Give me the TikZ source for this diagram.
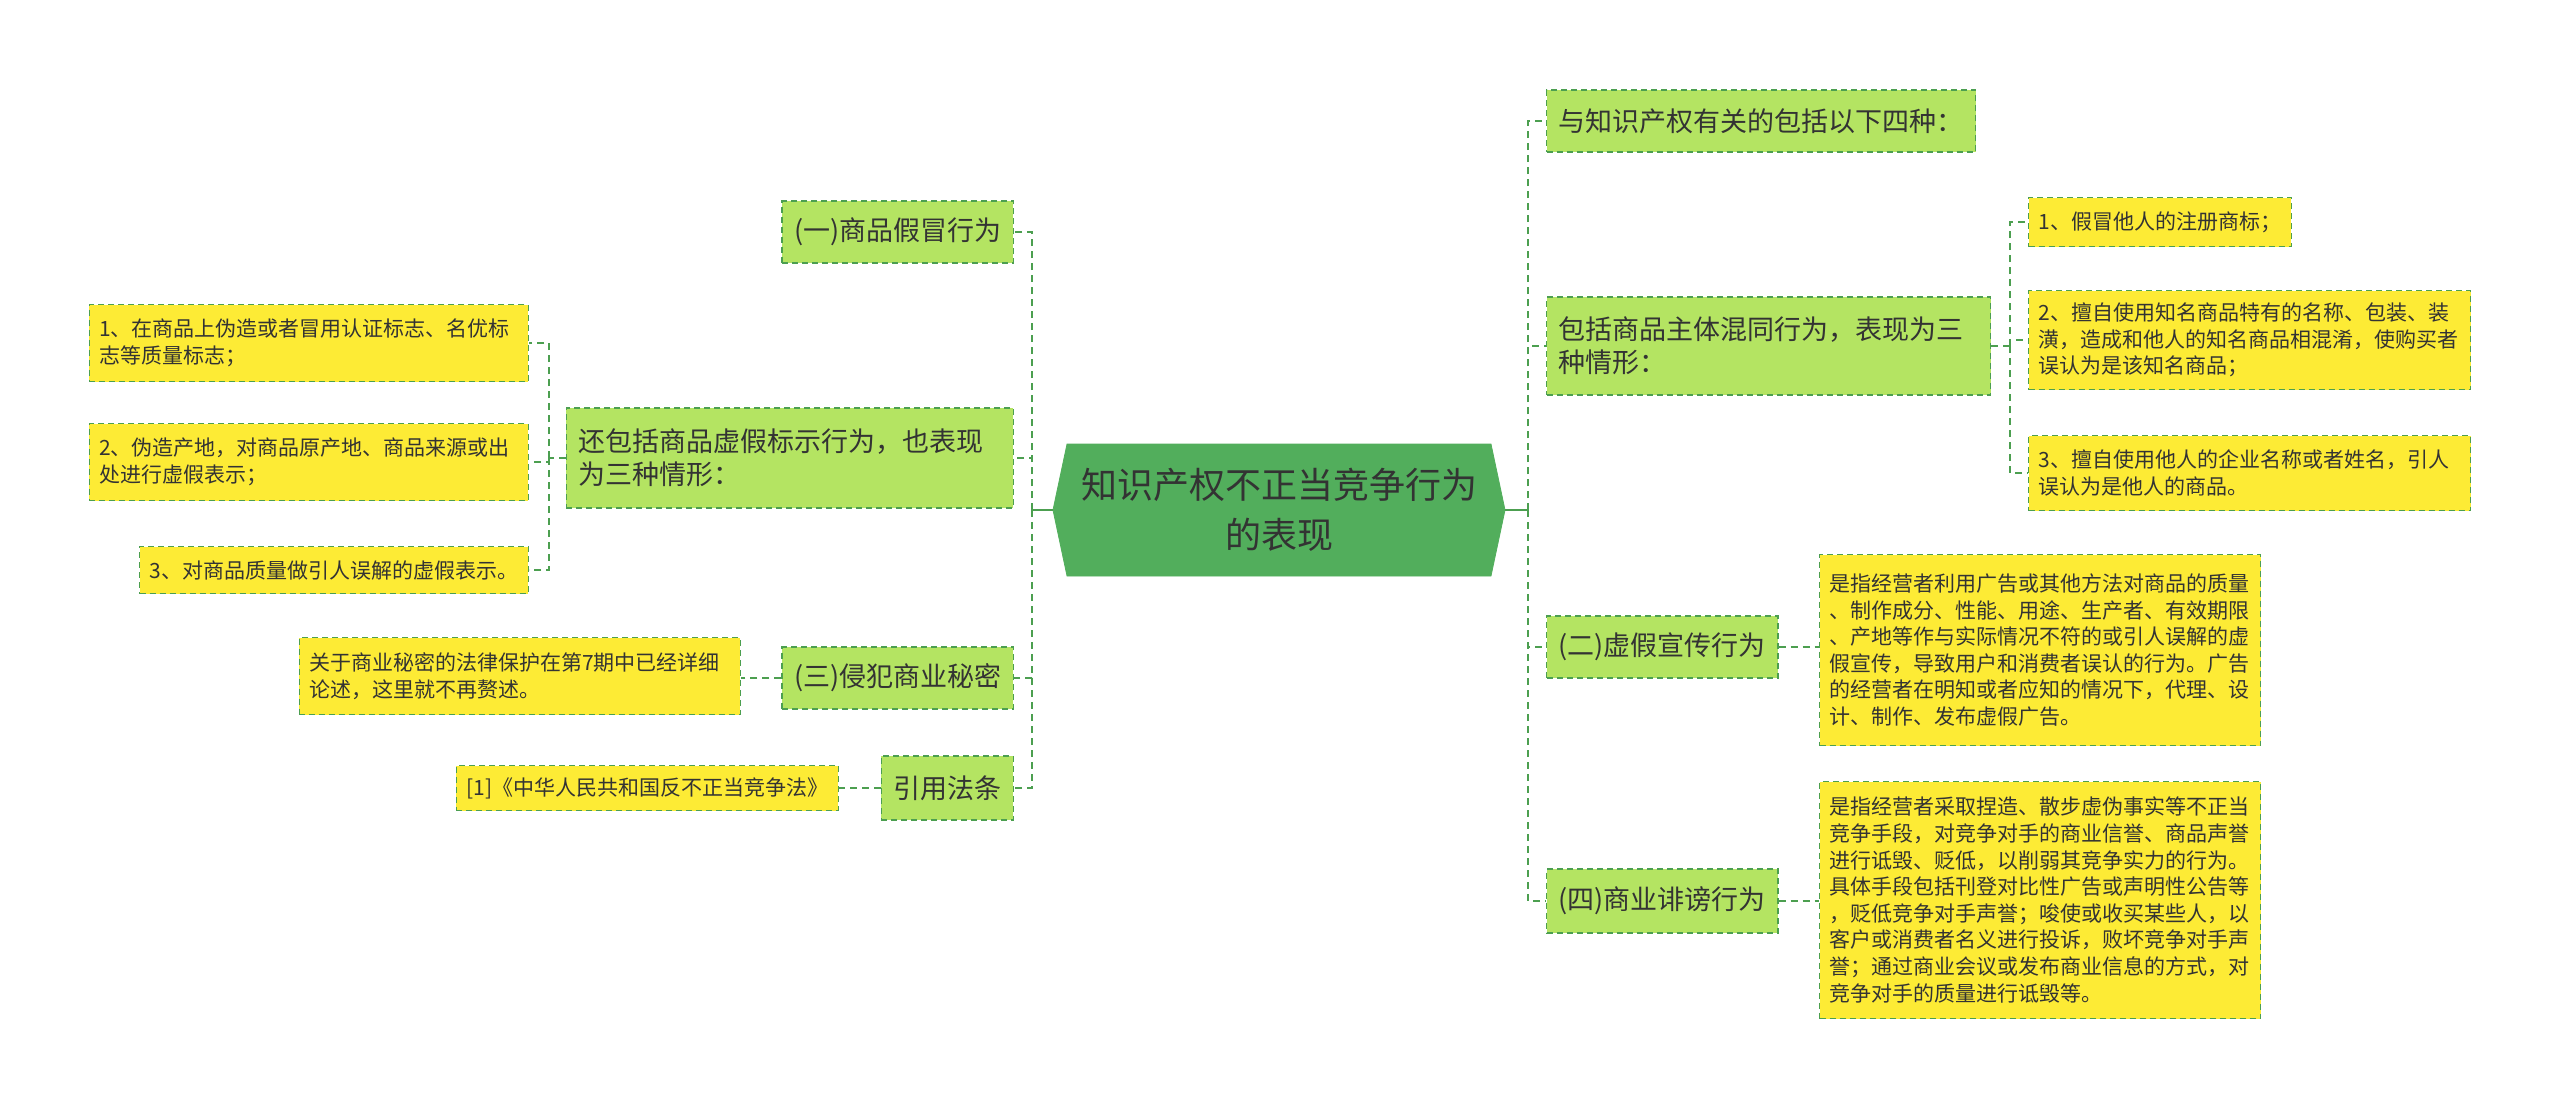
\documentclass[tikz,border=0pt]{standalone}
\usepackage{fontspec}
\newfontfamily\cjk{Noto Sans CJK SC}
\usetikzlibrary{shapes.symbols}
\definecolor{rootgreen}{HTML}{52AE5C}
\definecolor{lightgreen}{HTML}{B4E462}
\definecolor{leafyellow}{HTML}{FDEB35}
\definecolor{linegreen}{HTML}{4C9F50}
\definecolor{textgray}{HTML}{333333}
\begin{document}
\begin{tikzpicture}[x=0.5pt, y=-0.5pt,
    root/.style={signal, signal to=west and east, signal pointer angle=156,
      fill=rootgreen, draw=rootgreen, minimum width=226pt, minimum height=66pt,
      inner sep=0pt, align=center, text=textgray,
      font=\cjk\fontsize{18}{25}\selectfont},
    branch/.style={draw=linegreen, line width=0.7pt, dash pattern=on 3pt off 2pt,
      fill=lightgreen, inner xsep=6pt, inner ysep=2pt, minimum height=31pt,
      align=left, text=textgray, font=\cjk\fontsize{13.5}{16.5}\selectfont},
    leaf/.style={draw=linegreen, line width=0.7pt, dash pattern=on 3pt off 2pt,
      fill=leafyellow, inner xsep=5pt, inner ysep=2pt, align=left, text=textgray,
      font=\cjk\fontsize{10.5}{13.3}\selectfont},
    link/.style={draw=linegreen, line width=1pt, dash pattern=on 3.5pt off 2.5pt}]
    \useasboundingbox (0,0) rectangle (2560,1109);

    \node[root] (root) at (1279,510) {知识产权不正当竞争行为\\的表现};
    \coordinate (lj) at (1032,510);
    \coordinate (rj) at (1528,510);

    % left side
    \node[branch, anchor=east] (fake) at (1014,232) {(一)商品假冒行为};
    \node[branch, anchor=east, text width=211.5pt, minimum height=50pt] (mark) at (1014,458)
      {还包括商品虚假标示行为，也表现\\为三种情形：};
    \node[leaf, anchor=east, text width=209.5pt, minimum height=38.5pt] (mark1) at (529,343)
      {1、在商品上伪造或者冒用认证标志、名优标\\志等质量标志；};
    \node[leaf, anchor=east, text width=209.5pt, minimum height=38.5pt] (mark2) at (529,462)
      {2、伪造产地，对商品原产地、商品来源或出\\处进行虚假表示；};
    \node[leaf, anchor=east, minimum height=23.5pt] (mark3) at (529,570)
      {3、对商品质量做引人误解的虚假表示。};
    \node[branch, anchor=east] (secret) at (1014,678) {(三)侵犯商业秘密};
    \node[leaf, anchor=east, text width=210.5pt, minimum height=38.5pt] (secretx) at (741,676)
      {关于商业秘密的法律保护在第7期中已经详细\\论述，这里就不再赘述。};
    \node[branch, anchor=east, minimum height=32pt] (law) at (1014,788) {引用法条};
    \node[leaf, anchor=east, minimum height=22.5pt] (lawx) at (839,788)
      {[1]《中华人民共和国反不正当竞争法》};

    % right side
    \node[branch, anchor=west] (four) at (1546,121) {与知识产权有关的包括以下四种：};
    \node[branch, anchor=west, text width=210pt, minimum height=49pt] (mix) at (1546,346)
      {包括商品主体混同行为，表现为三\\种情形：};
    \node[leaf, anchor=west, minimum height=24.5pt] (mix1) at (2028,222)
      {1、假冒他人的注册商标；};
    \node[leaf, anchor=west, text width=211pt, minimum height=49.5pt] (mix2) at (2028,340)
      {2、擅自使用知名商品特有的名称、包装、装\\潢，造成和他人的知名商品相混淆，使购买者\\误认为是该知名商品；};
    \node[leaf, anchor=west, text width=211pt, minimum height=37.5pt] (mix3) at (2028,473)
      {3、擅自使用他人的企业名称或者姓名，引人\\误认为是他人的商品。};
    \node[branch, anchor=west] (ads) at (1546,647) {(二)虚假宣传行为};
    \node[leaf, anchor=west, text width=210.5pt, minimum height=95.5pt] (adsx) at (1819,650)
      {是指经营者利用广告或其他方法对商品的质量\\、制作成分、性能、用途、生产者、有效期限\\、产地等作与实际情况不符的或引人误解的虚\\假宣传，导致用户和消费者误认的行为。广告\\的经营者在明知或者应知的情况下，代理、设\\计、制作、发布虚假广告。};
    \node[branch, anchor=west, minimum height=32pt] (slander) at (1546,901) {(四)商业诽谤行为};
    \node[leaf, anchor=west, text width=210.5pt, minimum height=118.5pt] (slanderx) at (1819,900)
      {是指经营者采取捏造、散步虚伪事实等不正当\\竞争手段，对竞争对手的商业信誉、商品声誉\\进行诋毁、贬低，以削弱其竞争实力的行为。\\具体手段包括刊登对比性广告或声明性公告等\\，贬低竞争对手声誉；唆使或收买某些人，以\\客户或消费者名义进行投诉，败坏竞争对手声\\誉；通过商业会议或发布商业信息的方式，对\\竞争对手的质量进行诋毁等。};

    % connectors
    \draw[linegreen, line width=1pt] (root.west) -- (lj);
    \draw[linegreen, line width=1pt] (root.east) -- (rj);
    \foreach \n in {fake, mark, secret, law}
      \draw[link] (lj) |- (\n.east);
    \foreach \n in {four, mix, ads, slander}
      \draw[link] (rj) |- (\n.west);
    \coordinate (mj) at (549,458);
    \draw[link] (mark.west) -- (mj);
    \foreach \n in {mark1, mark2, mark3}
      \draw[link] (mj) |- (\n.east);
    \coordinate (xj) at (2010,346);
    \draw[link] (mix.east) -- (xj);
    \foreach \n in {mix1, mix2, mix3}
      \draw[link] (xj) |- (\n.west);
    \draw[link] (secret.west) -- (secretx.east |- secret.west);
    \draw[link] (law.west) -- (lawx.east);
    \draw[link] (ads.east) -- (adsx.west |- ads.east);
    \draw[link] (slander.east) -- (slanderx.west |- slander.east);
\end{tikzpicture}
\end{document}
